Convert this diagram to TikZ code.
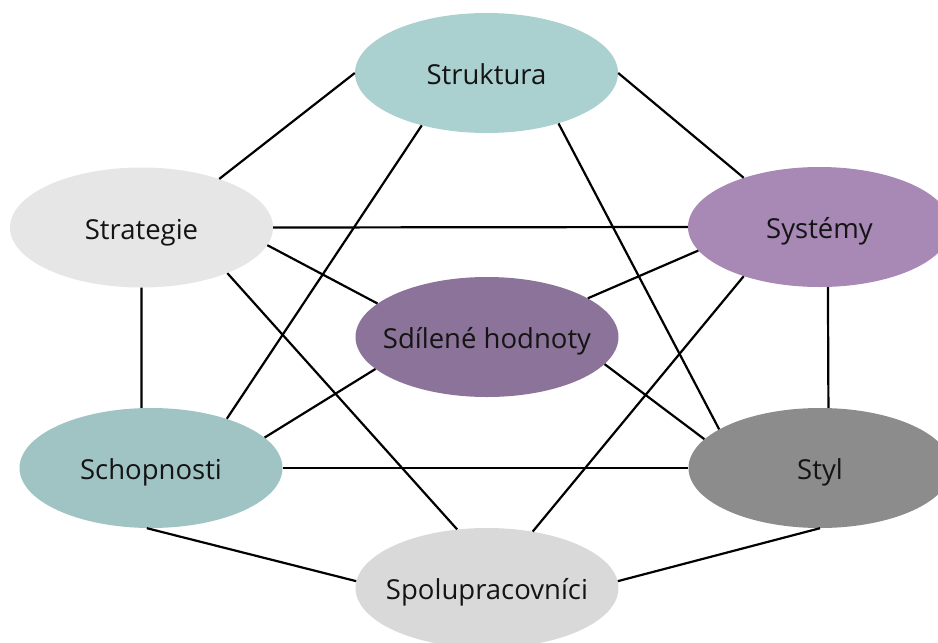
\documentclass[tikz,border=0pt]{standalone}
\usepackage{fontspec}
\setmainfont{Open Sans}
\usetikzlibrary{shapes.geometric}
\definecolor{cStruktura}{RGB}{170,208,208}
\definecolor{cStrategie}{RGB}{230,230,230}
\definecolor{cSystemy}{RGB}{168,136,181}
\definecolor{cHodnoty}{RGB}{140,115,153}
\definecolor{cSchopnosti}{RGB}{160,196,196}
\definecolor{cStyl}{RGB}{140,140,140}
\definecolor{cSpolu}{RGB}{217,217,217}
% zero-width label box, so every ellipse keeps the same size
\newcommand{\ovtext}[1]{\makebox[0pt][c]{#1}}
\tikzset{
  sbox/.style={ellipse, minimum width=263pt, minimum height=120pt, inner sep=0pt,
    text height=23pt, text depth=0pt,
    font=\fontsize{27.5}{33}\selectfont, text=black!92},
  link/.style={line width=2.2pt, black}
}
\begin{document}
\begin{tikzpicture}[x=1pt,y=-1pt]
\useasboundingbox (0,0) rectangle (938,643);
\node[sbox, fill=cStruktura]  (struk)  at (486.5,73)  {\ovtext{Struktura}};
\node[sbox, fill=cStrategie]  (strat)  at (141.5,227.5) {\ovtext{Strategie}};
\node[sbox, fill=cSystemy]    (sys)    at (819.5,227) {\ovtext{Systémy}};
\node[sbox, fill=cHodnoty]    (hod)    at (487,337)   {\ovtext{Sdílené hodnoty}};
\node[sbox, fill=cSchopnosti] (schop)  at (151,468)   {\ovtext{Schopnosti}};
\node[sbox, fill=cStyl]       (styl)   at (820,468)   {\ovtext{Styl}};
\node[sbox, fill=cSpolu]      (spolu)  at (487,588)   {\ovtext{Spolupracovníci}};

% connectors between all the elements
\draw[link] (struk.180) -- (strat.32);
\draw[link] (struk.0)   -- (sys.147);
\draw[link] (struk.219) -- (schop.33);
\draw[link] (struk.325) -- (styl.159);
\draw[link] (strat.east) -- (sys.west);
\draw[link] (strat.352) -- (hod.163);
\draw[link] (strat.south) -- (schop.99);
\draw[link] (strat.332) -- (spolu.117);
\draw[link] (sys.191) -- (hod.21);
\draw[link] (sys.278) -- (styl.82);
\draw[link] (sys.213) -- (spolu.51);
\draw[link] (hod.196) -- (schop.15);
\draw[link] (hod.347) -- (styl.166);
\draw[link] (schop.east) -- (styl.west);
\draw[link] (schop.266) -- (spolu.177);
\draw[link] (styl.south) -- (spolu.3.5);
\end{tikzpicture}
\end{document}
